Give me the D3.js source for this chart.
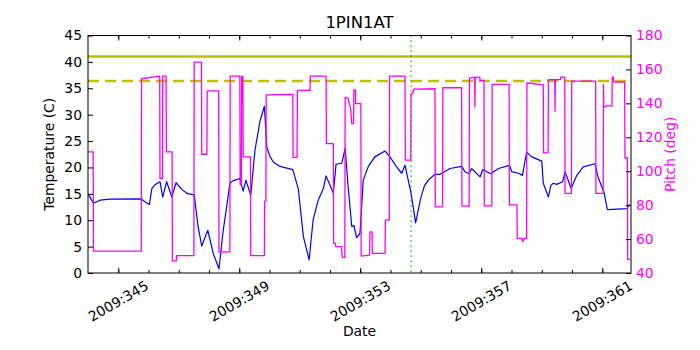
<!DOCTYPE html>
<html>
<head>
<meta charset="utf-8">
<script src="https://cdn.jsdelivr.net/npm/d3@7"></script>
<style>
  html, body { margin: 0; padding: 0; background: #fff; }
  svg { display: block; font-family: "DejaVu Sans", sans-serif; }
</style>
</head>
<body>
<svg id="chart" width="700" height="350"></svg>
<script>
// ---- data ----
const title = "1PIN1AT";
const xLabel = "Date";
const yLabelLeft = "Temperature (C)";
const yLabelRight = "Pitch (deg)";

// day-of-year (2009) vs temperature (C)
const temperature = [
  [344.01,14.9],[344.18,13.2],[344.40,13.8],[344.73,14.0],[345.75,14.05],[345.88,13.5],
  [346.03,13.0],[346.11,16.0],[346.21,16.7],[346.38,17.3],[346.47,14.4],[346.60,17.3],
  [346.77,14.4],[346.91,17.1],[347.11,15.8],[347.27,15.1],[347.51,14.8],[347.64,8.8],
  [347.76,5.1],[347.96,8.1],[348.14,3.7],[348.33,0.8],[348.47,8.1],[348.60,13.2],
  [348.69,17.0],[348.80,17.5],[349.02,17.9],[349.13,15.5],[349.22,17.6],[349.38,14.7],
  [349.52,23.3],[349.69,28.9],[349.83,31.6],[349.91,23.9],[350.02,22.0],[350.13,21.0],
  [350.35,20.2],[350.77,19.6],[350.95,16.0],[351.12,6.9],[351.31,2.5],[351.44,10.0],
  [351.61,13.8],[351.78,16.0],[351.87,18.4],[352.11,15.1],[352.20,20.6],[352.39,20.8],
  [352.50,23.6],[352.60,16.3],[352.72,8.8],[352.79,9.0],[352.88,6.7],[352.99,7.5],
  [353.10,17.6],[353.26,20.1],[353.48,22.0],[353.82,23.1],[353.98,22.0],[354.20,20.1],
  [354.37,18.9],[354.48,20.4],[354.68,15.1],[354.83,9.5],[355.00,14.2],[355.12,16.5],
  [355.25,17.6],[355.47,18.7],[355.64,18.7],[355.97,19.8],[356.35,20.2],[356.46,19.2],
  [356.60,18.8],[356.68,19.8],[356.96,18.2],[357.05,19.6],[357.31,18.8],[357.57,19.8],
  [357.93,20.4],[358.01,19.2],[358.23,18.9],[358.36,18.5],[358.50,22.9],[358.67,22.0],
  [359.00,21.2],[359.05,17.0],[359.22,14.4],[359.30,16.6],[359.38,17.0],[359.49,16.8],
  [359.69,17.3],[359.77,19.2],[359.97,16.0],[360.16,18.5],[360.37,20.1],[360.76,20.7],
  [360.86,18.2],[361.06,15.2],[361.17,12.0],[361.81,12.2],[361.90,13.0]
];

// day-of-year (2009) vs pitch (deg)
const pitch = [
  [344.01,111.4],[344.17,111.4],[344.18,52.9],[345.76,52.9],[345.77,154.5],[346.37,156],
  [346.38,95.7],[346.46,95.7],[346.47,156],[346.58,156],[346.59,111.4],[346.78,111.4],
  [346.79,47.2],[346.92,47.2],[346.93,50.2],[347.50,50.2],[347.51,164.3],[347.75,164.3],
  [347.76,110],[347.93,110],[347.94,147.3],[348.32,147.3],[348.33,52.5],[348.69,52.5],
  [348.70,156],[349.02,156],[349.03,92],[349.07,92],[349.08,156],[349.12,156],
  [349.13,108.4],[349.37,108.4],[349.38,50.2],[349.83,50.2],[349.84,82.4],[349.88,82.4],
  [349.89,145],[350.77,145.3],[350.78,108.1],[350.91,108.1],[350.92,147.6],[351.34,147.6],
  [351.35,156],[351.87,156],[351.88,116.3],[352.11,116.3],[352.12,57.5],[352.18,57.5],
  [352.19,55.5],[352.38,55.5],[352.39,52],[352.41,49.2],[352.49,49.2],[352.50,143.7],
  [352.60,142.8],[352.68,136.9],[352.72,128],[352.78,128],[352.79,148],[352.84,148],
  [352.85,139.8],[353.02,139.8],[353.03,50],[353.31,50.5],[353.32,64.3],[353.39,64.3],
  [353.40,51.6],[353.82,51.6],[353.83,71.2],[353.96,71.2],[353.97,156],[354.48,156],
  [354.49,106.5],[354.67,106.5],[354.68,145.7],[354.74,145.7],[354.76,148.4],[355.47,148.6],
  [355.48,79],[355.72,79],[355.73,149.2],[356.35,149.2],[356.36,79.4],[356.60,79.4],
  [356.61,154.9],[356.78,155.5],[356.79,137.8],[356.80,155.5],[356.95,155.5],[356.96,153.5],
  [357.09,153.5],[357.10,79.6],[357.35,79.6],[357.36,151.2],[357.92,151.2],[357.93,80.2],
  [358.18,80.2],[358.19,60.4],[358.35,60.4],[358.37,58.4],[358.42,60.4],[358.50,60.4],
  [358.51,152],[359.00,151],[359.05,151],[359.06,110.8],[359.21,110.8],[359.22,154],
  [359.43,154],[359.44,135.3],[359.45,154],[359.62,154],[359.63,155.5],[359.76,155.5],
  [359.77,86.9],[359.98,86.9],[359.99,153.1],[360.78,153.1],[360.79,86.9],[361.03,86.9],
  [361.04,151.2],[361.05,137.8],[361.15,138.5],[361.32,138.5],[361.33,155.5],[361.37,155.5],
  [361.38,152.5],[361.74,152.5],[361.75,107.8],[361.83,107.8],[361.84,48],[361.92,48]
];

const limitSolid = 41;      // temperature limit (solid)
const limitDashed = 36.4;   // temperature limit (dashed)
const markerDay = 354.68;   // vertical dotted marker

const xMajorTicks = [345, 349, 353, 357, 361];
const xMajorLabels = ["2009:345", "2009:349", "2009:353", "2009:357", "2009:361"];
const xMinorTicks = d3.range(345, 362);
const yLeftTicks = [0, 5, 10, 15, 20, 25, 30, 35, 40, 45];
const yRightTicks = [40, 60, 80, 100, 120, 140, 160, 180];

// ---- layout ----
const L = 88, R = 631, T = 35.5, B = 273;
const svg = d3.select("#chart");

const x = d3.scaleLinear().domain([344.0, 361.95]).range([L, R]);
const yT = d3.scaleLinear().domain([0, 45]).range([B, T]);
const yP = d3.scaleLinear().domain([40, 180]).range([B, T]);

svg.append("defs").append("clipPath").attr("id", "clip")
  .append("rect").attr("x", L).attr("y", T).attr("width", R - L).attr("height", B - T);

const plot = svg.append("g").attr("clip-path", "url(#clip)");

// limit lines
plot.append("line")
  .attr("x1", L).attr("x2", R).attr("y1", yT(limitSolid)).attr("y2", yT(limitSolid))
  .attr("stroke", "#bfbf00").attr("stroke-width", 2.5);
plot.append("line")
  .attr("x1", L).attr("x2", R).attr("y1", yT(limitDashed)).attr("y2", yT(limitDashed))
  .attr("stroke", "#bfbf00").attr("stroke-width", 2.5).attr("stroke-dasharray", "11,6");

// temperature line
plot.append("path").datum(temperature)
  .attr("fill", "none").attr("stroke", "#0000ff").attr("stroke-width", 1.2)
  .attr("stroke-linejoin", "round")
  .attr("d", d3.line().x(d => x(d[0])).y(d => yT(d[1])));

// marker
plot.append("line")
  .attr("x1", x(markerDay)).attr("x2", x(markerDay)).attr("y1", T).attr("y2", B)
  .attr("stroke", "#008000").attr("stroke-width", 1.2).attr("stroke-dasharray", "1.3,3.7");

// pitch line
plot.append("path").datum(pitch)
  .attr("fill", "none").attr("stroke", "#ff00ff").attr("stroke-width", 1.3)
  .attr("stroke-linejoin", "round")
  .attr("d", d3.line().x(d => x(d[0])).y(d => yP(d[1])));

// ---- axes ----
const fs = "13.9px";
function styleAxis(g, color) {
  g.select(".domain").remove();
  g.selectAll("line").attr("stroke", "#000").attr("stroke-width", 1);
  g.selectAll("text").attr("font-family", "DejaVu Sans").attr("font-size", fs).attr("fill", color || "#000");
}

svg.append("g").attr("transform", `translate(${L},0)`)
  .call(d3.axisLeft(yT).tickValues(yLeftTicks).tickSize(-5).tickPadding(6))
  .call(g => styleAxis(g));

svg.append("g").attr("transform", `translate(${R},0)`)
  .call(d3.axisRight(yP).tickValues(yRightTicks).tickSize(-5).tickPadding(5))
  .call(g => styleAxis(g, "#ff00ff"));

// bottom & top ticks (minor + major)
svg.append("g").attr("transform", `translate(0,${B})`)
  .call(d3.axisBottom(x).tickValues(xMinorTicks).tickSize(-3).tickFormat(""))
  .call(g => styleAxis(g));
svg.append("g").attr("transform", `translate(0,${B})`)
  .call(d3.axisBottom(x).tickValues(xMajorTicks).tickSize(-5).tickFormat(""))
  .call(g => styleAxis(g));
svg.append("g").attr("transform", `translate(0,${T})`)
  .call(d3.axisTop(x).tickValues(xMinorTicks).tickSize(-3).tickFormat(""))
  .call(g => styleAxis(g));
svg.append("g").attr("transform", `translate(0,${T})`)
  .call(d3.axisTop(x).tickValues(xMajorTicks).tickSize(-5).tickFormat(""))
  .call(g => styleAxis(g));

// rotated date labels
svg.append("g").selectAll("text").data(xMajorTicks).join("text")
  .attr("transform", d => `translate(${x(d)},301) rotate(-30)`)
  .attr("text-anchor", "middle").attr("dominant-baseline", "central")
  .attr("font-size", fs).attr("fill", "#000")
  .text((d, i) => xMajorLabels[i]);

// frame
svg.append("rect").attr("x", L).attr("y", T).attr("width", R - L).attr("height", B - T)
  .attr("fill", "none").attr("stroke", "#000").attr("stroke-width", 1);

// titles
svg.append("text").attr("x", (L + R) / 2).attr("y", 28).attr("text-anchor", "middle")
  .attr("font-size", "16.5px").text(title);
svg.append("text").attr("x", (L + R) / 2).attr("y", 336).attr("text-anchor", "middle")
  .attr("font-size", fs).text(xLabel);
svg.append("text").attr("transform", `translate(54,${(T + B) / 2}) rotate(-90)`)
  .attr("text-anchor", "middle").attr("font-size", fs).text(yLabelLeft);
svg.append("text").attr("transform", `translate(675,${(T + B) / 2}) rotate(-90)`)
  .attr("text-anchor", "middle").attr("font-size", fs).attr("fill", "#ff00ff").text(yLabelRight);
</script>
</body>
</html>
